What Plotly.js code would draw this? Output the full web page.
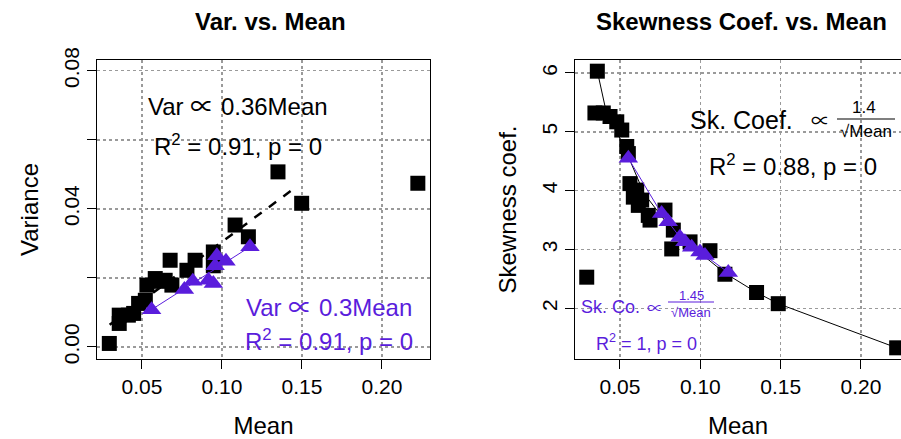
<!DOCTYPE html>
<html>
<head>
<meta charset="utf-8">
<script src="https://cdn.plot.ly/plotly-3.0.1.min.js"></script>
<style>html,body{margin:0;padding:0;background:#fff;}#chart{width:901px;height:439px;}</style>
</head>
<body>
<div id="chart"></div>
<script>
// ---- Data ----
// Left panel: Variance vs Mean
const varMeanBlack = [0.0296,0.0358,0.0358,0.0415,0.0448,0.0479,0.0521,0.0531,0.0583,0.0614,0.0645,0.0676,0.0687,0.0781,0.0832,0.0946,0.0946,0.1082,0.1165,0.1350,0.1498,0.2224];
const varBlack     = [0.0010,0.0092,0.0068,0.0092,0.0097,0.0126,0.0135,0.0179,0.0198,0.0190,0.0193,0.0251,0.0179,0.0222,0.0251,0.0275,0.0235,0.0353,0.0319,0.0507,0.0416,0.0474];
const varMeanPurple = [0.0560,0.0765,0.0818,0.0915,0.0946,0.0957,0.0968,0.1025,0.1175];
const varPurple     = [0.0108,0.0166,0.0190,0.0193,0.0184,0.0235,0.0264,0.0248,0.0290];
const varFitBlackX = [0.0298,0.1466];
const varFitBlackY = [0.0064,0.0464];
const varFitPurpleX = [0.0560,0.1175];
const varFitPurpleY = [0.0108,0.0290];

// Right panel: Skewness coefficient vs Mean
const skMeanBlack = [0.0293,0.0344,0.0359,0.0396,0.0438,0.0480,0.0511,0.0542,0.0552,0.0562,0.0583,0.0604,0.0614,0.0635,0.0676,0.0687,0.0780,0.0822,0.0832,0.0936,0.1060,0.1153,0.1350,0.1485,0.2222];
const skBlack     = [2.53,5.32,6.03,5.32,5.26,5.17,5.03,4.75,4.63,4.12,3.89,4.01,3.75,3.84,3.58,3.50,3.67,3.01,3.33,3.13,2.98,2.58,2.27,2.08,1.33];
const skMeanPurple = [0.0552,0.0759,0.0800,0.0873,0.0904,0.0946,0.0998,0.1029,0.1174];
const skPurple     = [4.55,3.61,3.47,3.21,3.13,3.04,2.96,2.90,2.61];
const skCurveX = [0.0359,0.0407,0.0480,0.0552,0.0650,0.0800,0.0950,0.1153,0.1350,0.1485,0.2222];
const skCurveY = [6.03,5.43,5.00,4.58,3.95,3.42,3.05,2.60,2.27,2.08,1.33];

const xTickVals = [0.05,0.10,0.15,0.20];
const xTickText = ['0.05','0.10','0.15','0.20'];
const varTickVals = [0.00,0.04,0.08];
const varTickText = ['0.00','0.04','0.08'];
const skTickVals = [2,3,4,5,6];
const skTickText = ['2','3','4','5','6'];

// ---- Styles ----
const PURPLE = '#5a1ddc';
const FONT = 'Liberation Sans, Arial, sans-serif';
const SYM = '<span style="font-family:Noto Sans CJK JP">\u221D</span>';
const W = 901, H = 439;
const px = v => v / W;
const py = v => 1 - v / H;

const traces = [
  {x: varFitBlackX, y: varFitBlackY, xaxis:'x', yaxis:'y', mode:'lines', line:{color:'#000', width:2.5, dash:'dash'}, hoverinfo:'skip'},
  {x: varMeanBlack, y: varBlack, xaxis:'x', yaxis:'y', mode:'markers', marker:{symbol:'square', size:15, color:'#000'}},
  {x: varFitPurpleX, y: varFitPurpleY, xaxis:'x', yaxis:'y', mode:'lines', line:{color:PURPLE, width:1}, hoverinfo:'skip'},
  {x: varMeanPurple, y: varPurple, xaxis:'x', yaxis:'y', mode:'markers', marker:{symbol:'triangle-up', size:17, color:PURPLE}},
  {x: skCurveX, y: skCurveY, xaxis:'x2', yaxis:'y2', mode:'lines', line:{color:'#000', width:1}, hoverinfo:'skip'},
  {x: skMeanBlack, y: skBlack, xaxis:'x2', yaxis:'y2', mode:'markers', marker:{symbol:'square', size:15, color:'#000'}},
  {x: skMeanPurple, y: skPurple, xaxis:'x2', yaxis:'y2', mode:'lines+markers', line:{color:PURPLE, width:1}, marker:{symbol:'triangle-up', size:17, color:PURPLE}}
];

const axisCommon = {
  showline:true, mirror:true, linecolor:'#000', linewidth:1,
  showgrid:true, gridcolor:'#9a9a9a', griddash:'dot', gridwidth:1.5,
  zeroline:false, ticks:'outside', ticklen:9, tickcolor:'#000', tickwidth:1,
  tickfont:{family:FONT, size:21, color:'#000'}
};

const layout = {
  width: W, height: H,
  margin:{l:0, r:0, t:0, b:0},
  paper_bgcolor:'#fff', plot_bgcolor:'#fff',
  showlegend:false,
  font:{family:FONT, color:'#000'},
  xaxis: Object.assign({}, axisCommon, {
    domain:[px(97), px(430)], range:[0.0219, 0.2300], anchor:'y',
    tickmode:'array', tickvals:xTickVals, ticktext:xTickText,
    title:{text:'Mean', font:{family:FONT, size:24}, standoff:19}
  }),
  yaxis: Object.assign({}, axisCommon, {
    domain:[1-359/H, 1-60/H], range:[-0.0035, 0.0831], anchor:'x',
    tickmode:'array', tickvals:varTickVals, ticktext:varTickText, tickangle:-90,
    minor:{tick0:0, dtick:0.02, ticks:'outside', ticklen:9, tickcolor:'#000', showgrid:true, gridcolor:'#9a9a9a', griddash:'dot', gridwidth:1.5},
    title:{text:'Variance', font:{family:FONT, size:24}, standoff:14}
  }),
  xaxis2: Object.assign({}, axisCommon, {
    domain:[px(575), 1], range:[0.0220, 0.2249], anchor:'y2',
    tickmode:'array', tickvals:xTickVals, ticktext:xTickText,
    title:{text:'Mean', font:{family:FONT, size:24}, standoff:19}
  }),
  yaxis2: Object.assign({}, axisCommon, {
    domain:[1-359/H, 1-60/H], range:[1.14, 6.22], anchor:'x2',
    tickmode:'array', tickvals:skTickVals, ticktext:skTickText, tickangle:-90,
    title:{text:'Skewness coef.', font:{family:FONT, size:24}, standoff:14}
  }),
  shapes:[
    {type:'line', xref:'paper', yref:'paper', x0:px(837), x1:px(895), y0:py(119), y1:py(119), line:{color:'#000', width:1.2}},
    {type:'line', xref:'paper', yref:'paper', x0:px(668), x1:px(714), y0:py(302), y1:py(302), line:{color:PURPLE, width:1.2}}
  ],
  annotations:[
    {text:'<b>Var. vs. Mean</b>', xref:'paper', yref:'paper', x:px(270), y:py(22), showarrow:false, xanchor:'center', yanchor:'middle', font:{family:FONT, size:24, color:'#000'}},
    {text:'<b>Skewness Coef. vs. Mean</b>', xref:'paper', yref:'paper', x:px(741), y:py(22), showarrow:false, xanchor:'center', yanchor:'middle', font:{family:FONT, size:24, color:'#000'}},
    {text:'Var '+SYM+' 0.36Mean', xref:'paper', yref:'paper', x:px(238), y:py(105), showarrow:false, xanchor:'center', yanchor:'middle', font:{family:FONT, size:24, color:'#000'}},
    {text:'R<sup>2</sup> = 0.91, p = 0', xref:'paper', yref:'paper', x:px(238), y:py(145), showarrow:false, xanchor:'center', yanchor:'middle', font:{family:FONT, size:24, color:'#000'}},
    {text:'Var '+SYM+' 0.3Mean', xref:'paper', yref:'paper', x:px(329), y:py(305), showarrow:false, xanchor:'center', yanchor:'middle', font:{family:FONT, size:24, color:PURPLE}},
    {text:'R<sup>2</sup> = 0.91, p = 0', xref:'paper', yref:'paper', x:px(329), y:py(340), showarrow:false, xanchor:'center', yanchor:'middle', font:{family:FONT, size:24, color:PURPLE}},
    {text:'Sk. Coef.', xref:'paper', yref:'paper', x:px(741), y:py(120), showarrow:false, xanchor:'center', yanchor:'middle', font:{family:FONT, size:25, color:'#000'}},
    {text:SYM, xref:'paper', yref:'paper', x:px(820), y:py(120), showarrow:false, xanchor:'center', yanchor:'middle', font:{family:FONT, size:19, color:'#000'}},
    {text:'1.4', xref:'paper', yref:'paper', x:px(864), y:py(108), showarrow:false, xanchor:'center', yanchor:'middle', font:{family:FONT, size:17, color:'#000'}},
    {text:'\u221AMean', xref:'paper', yref:'paper', x:px(866), y:py(132), showarrow:false, xanchor:'center', yanchor:'middle', font:{family:FONT, size:17, color:'#000'}},
    {text:'R<sup>2</sup> = 0.88, p = 0', xref:'paper', yref:'paper', x:px(793), y:py(165), showarrow:false, xanchor:'center', yanchor:'middle', font:{family:FONT, size:24, color:'#000'}},
    {text:'Sk. Co.', xref:'paper', yref:'paper', x:px(610), y:py(307), showarrow:false, xanchor:'center', yanchor:'middle', font:{family:FONT, size:18, color:PURPLE}},
    {text:SYM, xref:'paper', yref:'paper', x:px(655), y:py(307), showarrow:false, xanchor:'center', yanchor:'middle', font:{family:FONT, size:16, color:PURPLE}},
    {text:'1.45', xref:'paper', yref:'paper', x:px(691), y:py(295), showarrow:false, xanchor:'center', yanchor:'middle', font:{family:FONT, size:13, color:PURPLE}},
    {text:'\u221AMean', xref:'paper', yref:'paper', x:px(691), y:py(312), showarrow:false, xanchor:'center', yanchor:'middle', font:{family:FONT, size:13, color:PURPLE}},
    {text:'R<sup>2</sup> = 1, p = 0', xref:'paper', yref:'paper', x:px(646), y:py(342), showarrow:false, xanchor:'center', yanchor:'middle', font:{family:FONT, size:18, color:PURPLE}}
  ]
};

Plotly.newPlot('chart', traces, layout, {displayModeBar:false, staticPlot:true});
</script>
</body>
</html>
